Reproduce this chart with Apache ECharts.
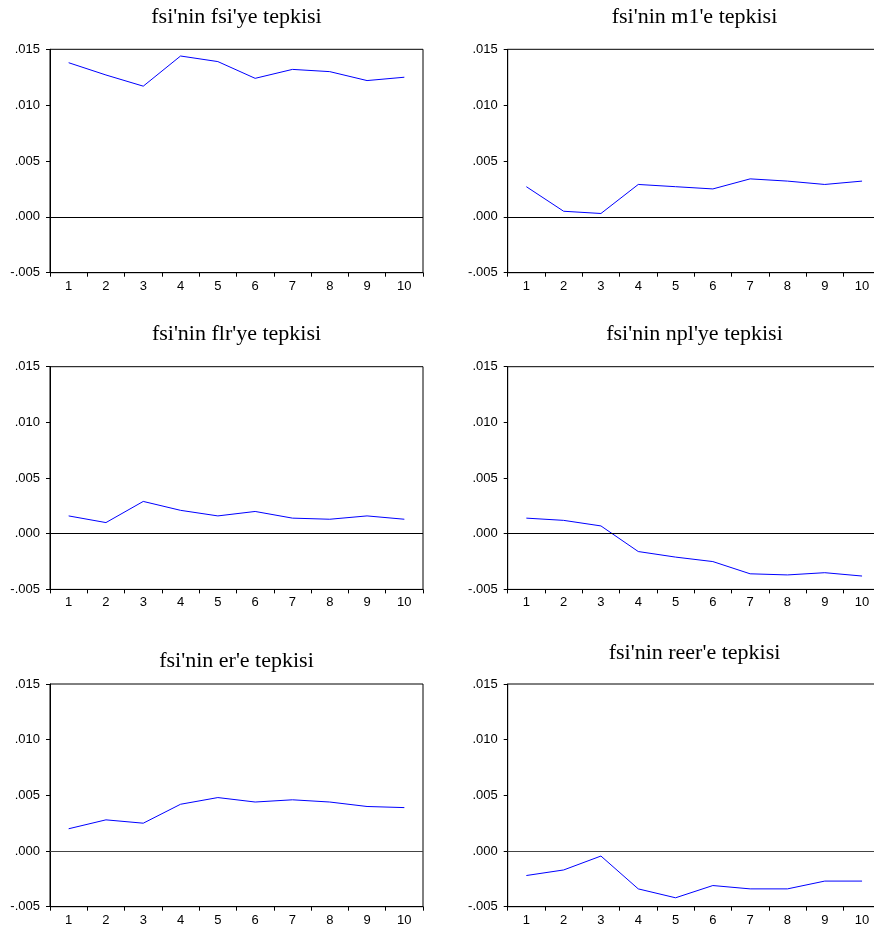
<!DOCTYPE html>
<html>
<head>
<meta charset="utf-8">
<script src="https://cdn.jsdelivr.net/npm/echarts@6/dist/echarts.min.js"></script>
<style>
html,body{margin:0;padding:0;background:#fff;overflow:hidden;width:874px;height:932px;}
#chart{width:892px;height:932px;}
</style>
</head>
<body>
<div id="chart"></div>
<script>
const periods = ['1','2','3','4','5','6','7','8','9','10'];
const titles = ["fsi'nin fsi'ye tepkisi", "fsi'nin m1'e tepkisi", "fsi'nin flr'ye tepkisi", "fsi'nin npl'ye tepkisi", "fsi'nin er'e tepkisi", "fsi'nin reer'e tepkisi"];
const fsiResp  = [0.0138, 0.0127, 0.0117, 0.0144, 0.0139, 0.0124, 0.0132, 0.0130, 0.0122, 0.0125];
const m1Resp   = [0.0027, 0.0005, 0.0003, 0.0029, 0.0027, 0.0025, 0.0034, 0.0032, 0.0029, 0.0032];
const flrResp  = [0.0016, 0.0010, 0.0029, 0.0021, 0.0016, 0.0020, 0.0014, 0.0013, 0.0016, 0.0013];
const nplResp  = [0.0014, 0.0012, 0.0007, -0.0016, -0.0021, -0.0025, -0.0036, -0.0037, -0.0035, -0.0038];
const erResp   = [0.0020, 0.0028, 0.0025, 0.0042, 0.0048, 0.0044, 0.0046, 0.0044, 0.0040, 0.0039];
const reerResp = [-0.0022, -0.0017, -0.00045, -0.0034, -0.0042, -0.0031, -0.0034, -0.0034, -0.0027, -0.0027];
const yMin = -0.005, yMax = 0.015, yStep = 0.005;

const seriesData = [fsiResp, m1Resp, flrResp, nplResp, erResp, reerResp];
const grids = [
  {left: 50, top: 49.3, width: 373, height: 223.4},
  {left: 507.7, top: 49.3, width: 373, height: 223.4},
  {left: 50, top: 366.7, width: 373, height: 222.7},
  {left: 507.7, top: 366.7, width: 373, height: 222.7},
  {left: 50, top: 684, width: 373, height: 222.7},
  {left: 507.7, top: 684, width: 373, height: 222.7}
];
const titlePos = [[236.5, 6], [694.5, 6.5], [236.5, 323], [694.5, 323.5], [236.5, 650], [694.5, 642]];

function fmt(v){
  const r = Math.round(v * 1000) / 1000;
  const s = Math.abs(r).toFixed(3).replace(/^0/, '');
  return (r < 0 ? '-' : '') + s;
}

const option = {
  backgroundColor: '#fff',
  animation: false,
  title: titles.map((t, i) => ({
    text: t,
    left: titlePos[i][0],
    top: titlePos[i][1],
    textAlign: 'center',
    padding: 0,
    textStyle: {fontFamily: 'Liberation Serif', fontSize: 22, fontWeight: 'normal', color: '#000'}
  })),
  grid: grids.map(g => Object.assign({show: true, borderColor: '#000', borderWidth: 1, backgroundColor: 'transparent', containLabel: false}, g)),
  xAxis: grids.map((g, i) => ({
    type: 'category',
    gridIndex: i,
    data: periods,
    boundaryGap: true,
    axisLine: {show: true, onZero: false, lineStyle: {color: '#000', width: 1}},
    axisTick: {show: true, alignWithLabel: false, inside: false, length: 4, lineStyle: {color: '#000'}},
    axisLabel: {color: '#000', fontFamily: 'Liberation Sans', fontSize: 13, margin: 7},
    splitLine: {show: false}
  })),
  yAxis: grids.map((g, i) => ({
    type: 'value',
    gridIndex: i,
    min: yMin, max: yMax, interval: yStep,
    axisLine: {show: true, onZero: false, lineStyle: {color: '#000', width: 1}},
    axisTick: {show: true, inside: false, length: 4, lineStyle: {color: '#000'}},
    axisLabel: {color: '#000', fontFamily: 'Liberation Sans', fontSize: 13, margin: 10, formatter: fmt},
    splitLine: {show: false}
  })),
  series: seriesData.map((d, i) => ({
    type: 'line',
    xAxisIndex: i,
    yAxisIndex: i,
    data: d,
    showSymbol: false,
    symbol: 'none',
    lineStyle: {color: '#0000ff', width: 1},
    itemStyle: {color: '#0000ff'},
    markLine: {
      silent: true,
      symbol: ['none', 'none'],
      label: {show: false},
      lineStyle: {color: i >= 4 ? '#444' : '#000', width: 1, type: 'solid'},
      data: [{yAxis: 0}]
    }
  }))
};

const chart = echarts.init(document.getElementById('chart'), null, {renderer: 'canvas'});
chart.setOption(option);
</script>
</body>
</html>
